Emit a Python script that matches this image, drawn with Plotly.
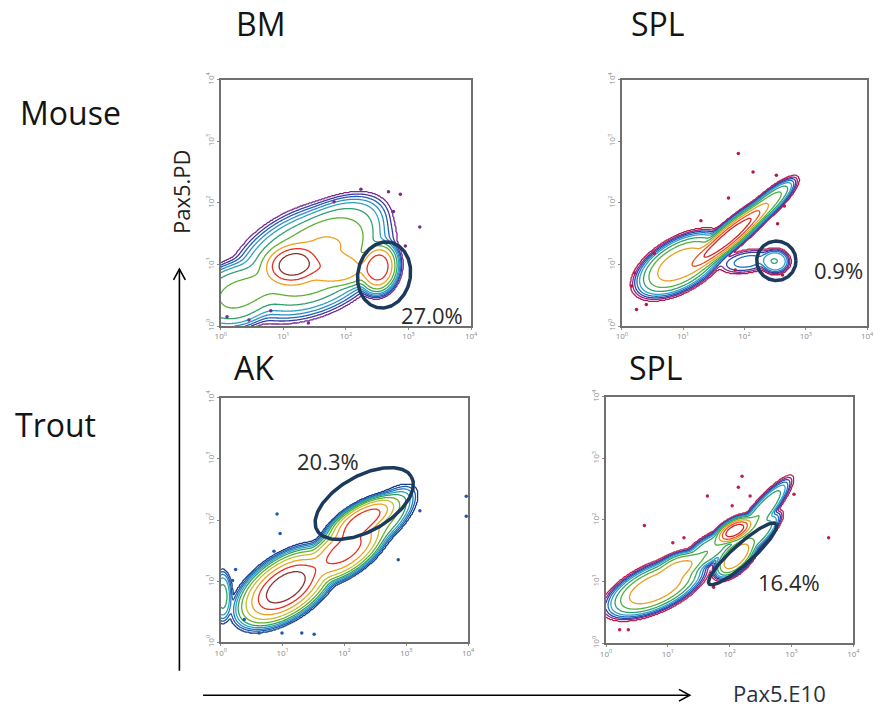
import numpy as np
import plotly.graph_objects as go

W, H = 883, 714

# ---------------- data (positions in decades = log10 of fluorescence) -----------------
tick_vals = [1, 10, 100, 1000, 10000]
tick_text = ["10<sup>0</sup>", "10<sup>1</sup>", "10<sup>2</sup>", "10<sup>3</sup>", "10<sup>4</sup>"]

panel_titles = ["BM", "SPL", "AK", "SPL"]
row_labels = ["Mouse", "Trout"]
gate_pct = ["27.0%", "0.9%", "20.3%", "16.4%"]

# relative-density levels of the contour lines (outermost first)
contour_levels = [0.001, 0.002, 0.004, 0.008, 0.016, 0.04, 0.1, 0.25, 0.5, 0.8]

# cell populations: centre, major/minor spread, tilt (deg), peak height
bm_mx = [1.15, 1.45, 2.52, 1.85, 0.25, 1.90]
bm_my = [1.00, 1.05, 0.95, 1.50, 0.50, 0.92]
bm_s1 = [0.25, 0.60, 0.20, 0.42, 0.35, 0.30]
bm_s2 = [0.18, 0.37, 0.15, 0.25, 0.25, 0.15]
bm_th = [10, 25, 80, 30, 20, 0]
bm_a = [1.00, 0.30, 0.90, 0.10, 0.15, 0.35]

msp_mx = [0.95, 1.75, 2.35, 2.50, 2.05]
msp_my = [1.00, 1.45, 1.95, 1.05, 1.05]
msp_s1 = [0.36, 0.45, 0.30, 0.12, 0.25]
msp_s2 = [0.18, 0.09, 0.08, 0.10, 0.10]
msp_th = [30, 40, 42, 0, 10]
msp_a = [0.40, 1.00, 0.15, 0.04, 0.01]

ak_mx = [1.05, 2.00, 2.30, 0.03, 2.60]
ak_my = [0.90, 1.50, 2.00, 0.75, 2.00]
ak_s1 = [0.40, 0.35, 0.30, 0.22, 0.35]
ak_s2 = [0.21, 0.17, 0.12, 0.08, 0.15]
ak_th = [35, 35, 30, 90, 45]
ak_a = [1.00, 0.60, 0.65, 0.02, 0.05]

tsp_mx = [0.80, 1.20, 2.08, 2.10, 2.50, 1.65, 2.45]
tsp_my = [0.90, 1.25, 1.83, 1.40, 2.10, 1.50, 1.75]
tsp_s1 = [0.38, 0.20, 0.17, 0.20, 0.35, 0.25, 0.25]
tsp_s2 = [0.16, 0.10, 0.08, 0.10, 0.08, 0.10, 0.08]
tsp_th = [25, 20, 30, 45, 50, 35, 45]
tsp_a = [0.45, 0.25, 1.00, 0.45, 0.10, 0.10, 0.08]

# scattered single events (decades)
bm_ev_x = [2.24, 2.68, 2.87, 3.18, 2.76, 1.81, 0.10, 0.45, 1.40, 0.80, 2.95]
bm_ev_y = [2.22, 2.18, 2.14, 1.61, 1.86, 2.02, 0.15, 0.10, 0.05, 0.25, 1.30]
msp_ev_x = [1.90, 2.14, 1.74, 2.52, 2.65, 2.54, 1.29, 0.53, 0.21, 0.16, 0.40, 0.24, 2.62, 1.85]
msp_ev_y = [2.80, 2.50, 2.08, 2.45, 1.95, 1.66, 1.71, 1.18, 0.86, 0.65, 0.35, 0.27, 0.83, 0.91]
ak_ev_x = [0.91, 0.96, 3.97, 3.97, 2.87, 3.22, 0.24, 0.19, 0.38, 0.62, 0.99, 1.31, 1.51, 0.86]
ak_ev_y = [2.10, 1.78, 2.39, 2.06, 1.35, 2.15, 1.19, 1.01, 0.37, 0.15, 0.15, 0.15, 0.13, 1.49]
tsp_ev_x = [2.20, 2.33, 2.04, 1.64, 2.14, 0.62, 1.08, 1.26, 3.04, 3.60, 0.22, 0.36, 1.74]
tsp_ev_y = [2.71, 2.39, 2.23, 2.39, 2.53, 1.91, 1.63, 1.71, 2.42, 1.71, 0.22, 0.22, 0.91]

# gates: centre (decades), semi-axes (decades), rotation (degrees)
gate_cx = [2.61, 2.52, 2.32, 2.21]
gate_cy = [0.83, 1.06, 2.27, 1.45]
gate_a = [0.54, 0.32, 0.88, 0.73]
gate_b = [0.42, 0.32, 0.45, 0.16]
gate_rot = [80, 0, 30, 42]

# label positions of the gate percentages (decades)
pct_x = [3.37, 3.53, 1.74, 2.96]
pct_y = [0.18, 0.91, 2.96, 1.00]

# ---------------- styling -------------------------------------------------------------
col_bm = ['#7a2a90', '#3a3aa0', '#2060b8', '#2a8cc8', '#2fa0c0', '#30a070',
          '#5cb030', '#f0a020', '#e83020', '#8a3030']
col_msp = ['#b81848', '#8a2a8a', '#3040a0', '#2070c0', '#30a0d0', '#30a070',
           '#50b040', '#e8a020', '#f05020', '#d02020']
col_ak = ['#1a3a8a', '#1f5aa8', '#2080c0', '#30a0c0', '#30a060', '#60b030',
          '#c0c030', '#f0a020', '#e83020', '#8a3030']
col_tsp = ['#c02050', '#8a2a8a', '#3040a0', '#2070c0', '#30a0d0', '#30a070',
           '#50b040', '#e8a020', '#f05020', '#d02020']
dot_col = ['#7a2a90', '#b81848', '#1f5aa8', '#c02050']
SHAPE_P = 1.6

boxes = [(218, 73, 472, 324), (625, 73, 874, 324), (218, 397, 469, 646), (609, 396, 860, 647)]
grid = np.linspace(0, 4, 241)


def level_index(mx, my, s1, s2, th, aa):
    X, Y = np.meshgrid(grid, grid)
    Z = np.zeros_like(X)
    for m1, m2, a1, a2, t, a in zip(mx, my, s1, s2, th, aa):
        c, s = np.cos(np.radians(t)), np.sin(np.radians(t))
        u = ((X - m1) * c + (Y - m2) * s) / a1
        v = (-(X - m1) * s + (Y - m2) * c) / a2
        Z += a * np.exp(-((u * u + v * v) / 2) ** SHAPE_P)
    L = np.log10(np.maximum(Z / Z.max(), 1e-14))
    xp = [-14] + list(np.log10(contour_levels)) + [0.0]
    fp = [-1] + list(range(len(contour_levels))) + [len(contour_levels)]
    return np.interp(L, xp, fp)


def scale(cols):
    n = len(cols)
    return [[i / (n - 1), c] for i, c in enumerate(cols)]


pops = [
    (bm_mx, bm_my, bm_s1, bm_s2, bm_th, bm_a),
    (msp_mx, msp_my, msp_s1, msp_s2, msp_th, msp_a),
    (ak_mx, ak_my, ak_s1, ak_s2, ak_th, ak_a),
    (tsp_mx, tsp_my, tsp_s1, tsp_s2, tsp_th, tsp_a),
]
colsets = [col_bm, col_msp, col_ak, col_tsp]
events = [(bm_ev_x, bm_ev_y), (msp_ev_x, msp_ev_y), (ak_ev_x, ak_ev_y), (tsp_ev_x, tsp_ev_y)]

fig = go.Figure()
lin = 10 ** grid
nlev = len(contour_levels)
for i in range(4):
    ax = '' if i == 0 else str(i + 1)
    Z = level_index(*pops[i])
    fig.add_trace(go.Contour(
        x=lin, y=lin, z=Z, xaxis='x' + ax, yaxis='y' + ax,
        contours=dict(start=0, end=nlev - 1, size=1, coloring='lines'),
        colorscale=scale(colsets[i]), line=dict(width=1.3),
        showscale=False, hoverinfo='skip'))
    ex, ey = events[i]
    fig.add_trace(go.Scatter(
        x=[10 ** v for v in ex], y=[10 ** v for v in ey], mode='markers',
        marker=dict(size=3.5, color=dot_col[i]), xaxis='x' + ax, yaxis='y' + ax,
        showlegend=False, hoverinfo='skip'))
    t = np.linspace(0, 2 * np.pi, 181)
    th = np.radians(gate_rot[i])
    gx = gate_cx[i] + gate_a[i] * np.cos(t) * np.cos(th) - gate_b[i] * np.sin(t) * np.sin(th)
    gy = gate_cy[i] + gate_a[i] * np.cos(t) * np.sin(th) + gate_b[i] * np.sin(t) * np.cos(th)
    fig.add_trace(go.Scatter(
        x=10 ** gx, y=10 ** gy, mode='lines', line=dict(color='#1b3a5c', width=3.5),
        xaxis='x' + ax, yaxis='y' + ax, showlegend=False, hoverinfo='skip'))

layout = dict(width=W, height=H, margin=dict(l=0, r=0, t=0, b=0),
              paper_bgcolor='white', plot_bgcolor='white', showlegend=False)

axis_common = dict(type='log', range=[0, 4], showgrid=False, zeroline=False,
                   showline=True, mirror=True, linecolor='#707070', linewidth=1.5,
                   ticks='outside', ticklen=2, tickcolor='#888',
                   tickvals=tick_vals, ticktext=tick_text,
                   tickfont=dict(family='Open Sans', size=8, color='#8a8a8a'))

for i, (l, t_, r, b) in enumerate(boxes):
    ax = '' if i == 0 else str(i + 1)
    layout['xaxis' + ax] = dict(axis_common, domain=[l / W, r / W], anchor='y' + ax)
    layout['yaxis' + ax] = dict(axis_common, domain=[1 - b / H, 1 - t_ / H], anchor='x' + ax,
                                tickangle=-90)

fig.update_layout(**layout)


def px(x):
    return x / W


def py(y):
    return 1 - y / H


ann = []
big = dict(family='Open Sans', size=32, color='#141414')
title_pos = [(258.5, 16), (661.5, 16), (251.5, 366), (660, 366)]
for txt, (x, y) in zip(panel_titles, title_pos):
    ann.append(dict(text=txt, x=px(x), y=py(y), xref='paper', yref='paper',
                    showarrow=False, font=big, xanchor='center', yanchor='middle'))
for txt, (x, y) in zip(row_labels, [(65.5, 106), (50.5, 424)]):
    ann.append(dict(text=txt, x=px(x), y=py(y), xref='paper', yref='paper',
                    showarrow=False, font=big, xanchor='center', yanchor='middle'))

for i in range(4):
    ax = '' if i == 0 else str(i + 1)
    ann.append(dict(text=gate_pct[i], x=pct_x[i], y=pct_y[i], xref='x' + ax, yref='y' + ax,
                    showarrow=False, xanchor='center', yanchor='middle',
                    font=dict(family='Open Sans', size=22, color='#2a2a2a')))

ann.append(dict(text='Pax5.PD', x=px(177), y=py(187), xref='paper', yref='paper',
                showarrow=False, textangle=-90, xanchor='center', yanchor='middle',
                font=dict(family='Open Sans', size=22, color='#222')))
ann.append(dict(text='Pax5.E10', x=px(785), y=py(698), xref='paper', yref='paper',
                showarrow=False, xanchor='center', yanchor='middle',
                font=dict(family='Open Sans', size=22, color='#2a3040')))
fig.update_layout(annotations=ann)

shapes = []
arrow = dict(color='black', width=1.6)
shapes.append(dict(type='line', xref='paper', yref='paper', x0=px(176), y0=py(675),
                   x1=px(176), y1=py(266), line=arrow))
shapes.append(dict(type='path', xref='paper', yref='paper',
                   path=f"M{px(170)},{py(277)} L{px(176)},{py(266)} L{px(182)},{py(277)}",
                   line=arrow))
shapes.append(dict(type='line', xref='paper', yref='paper', x0=px(200), y0=py(700),
                   x1=px(694), y1=py(700), line=arrow))
shapes.append(dict(type='path', xref='paper', yref='paper',
                   path=f"M{px(683)},{py(694)} L{px(694)},{py(700)} L{px(683)},{py(706)}",
                   line=arrow))
fig.update_layout(shapes=shapes)

fig.write_html("out.html")
